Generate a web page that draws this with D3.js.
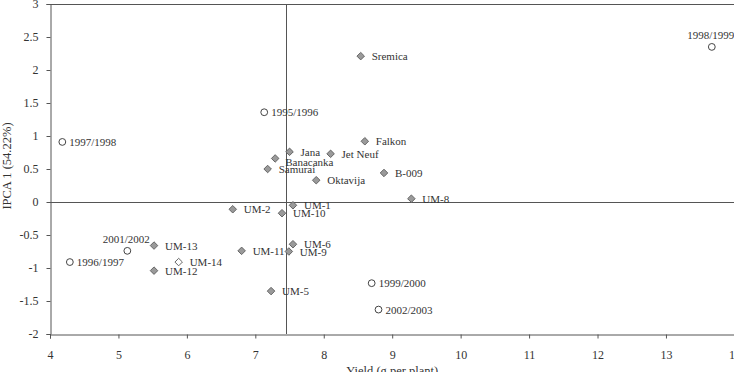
<!DOCTYPE html>
<html>
<head>
<meta charset="utf-8">
<script src="https://cdn.jsdelivr.net/npm/d3@7"></script>
<style>
  html, body { margin: 0; padding: 0; background: #fff; }
  svg { display: block; }
  text { font-family: "Liberation Serif", "Times New Roman", serif; fill: #333; }
</style>
</head>
<body>
<svg id="chart" width="734" height="372"></svg>
<script>
// ---- data ----
const genotypes = ["Sremica","Falkon","Jana","Banacanka","Jet Neuf","Samurai","B-009","Oktavija","UM-8","UM-1","UM-2","UM-10","UM-6","UM-11","UM-9","UM-5","UM-13","UM-12","UM-14"];
const genotypeYield = [8.54, 8.60, 7.50, 7.29, 8.10, 7.18, 8.88, 7.89, 9.28, 7.55, 6.67, 7.39, 7.55, 6.80, 7.49, 7.23, 5.52, 5.52, 5.88];
const genotypeIPCA = [2.21, 0.92, 0.76, 0.66, 0.73, 0.50, 0.44, 0.33, 0.05, -0.05, -0.11, -0.17, -0.64, -0.74, -0.75, -1.35, -0.66, -1.04, -0.91];
const environments = ["1998/1999","1995/1996","1997/1998","2001/2002","1996/1997","1999/2000","2002/2003"];
const envYield = [13.67, 7.13, 4.18, 5.13, 4.29, 8.70, 8.80];
const envIPCA = [2.35, 1.36, 0.91, -0.74, -0.91, -1.23, -1.63];
const meanYield = 7.45;
const xTicks = [4, 5, 6, 7, 8, 9, 10, 11, 12, 13, 14];
const yTicks = [-2, -1.5, -1, -0.5, 0, 0.5, 1, 1.5, 2, 2.5, 3];
const xTitle = "Yield (g per plant)";
const yTitle = "IPCA 1 (54.22%)";

// ---- layout / style ----
const mLeft = 50, mRight = 734.4, mTop = 4, mBottom = 334;
const axisColor = "#555";
const openGenotypes = ["UM-14"];
const labelAbove = ["1998/1999", "2001/2002"];
const labelBelowRight = ["Banacanka"];

const svg = d3.select("#chart");
const x = d3.scaleLinear().domain([4, 14]).range([mLeft, mRight]);
const y = d3.scaleLinear().domain([-2, 3]).range([mBottom, mTop]);

// top frame line
svg.append("line").attr("x1", mLeft).attr("x2", 740).attr("y1", mTop + 0.5).attr("y2", mTop + 0.5)
  .attr("stroke", axisColor).attr("stroke-width", 1);

// axes
const yAxis = d3.axisLeft(y).tickValues(yTicks).tickSize(4).tickPadding(8).tickFormat(d => String(d));
const gy = svg.append("g").attr("transform", `translate(${mLeft + 0.5},0)`).call(yAxis);
const xAxis = d3.axisBottom(x).tickValues(xTicks).tickSize(4).tickPadding(12).tickFormat(d => String(d));
const gx = svg.append("g").attr("transform", `translate(0,${mBottom + 0.5})`).call(xAxis);
[gx, gy].forEach(g => {
  g.select(".domain").attr("stroke", axisColor);
  g.selectAll(".tick line").attr("stroke", axisColor);
  g.selectAll(".tick text").attr("font-size", 12).attr("fill", "#333")
    .attr("font-family", '"Liberation Serif", "Times New Roman", serif');
});

// zero line and mean-yield line
svg.append("line").attr("x1", mLeft).attr("x2", 740).attr("y1", Math.round(y(0)) + 0.5).attr("y2", Math.round(y(0)) + 0.5)
  .attr("stroke", axisColor).attr("stroke-width", 1);
svg.append("line").attr("x1", Math.round(x(meanYield)) + 0.5).attr("x2", Math.round(x(meanYield)) + 0.5)
  .attr("y1", mTop).attr("y2", mBottom).attr("stroke", axisColor).attr("stroke-width", 1);

// titles
svg.append("text").attr("x", (mLeft + mRight) / 2).attr("y", 375).attr("text-anchor", "middle")
  .attr("font-size", 12.5).text(xTitle);
svg.append("text").attr("transform", `translate(11,${(mTop + mBottom) / 2 - 3}) rotate(-90)`)
  .attr("text-anchor", "middle").attr("font-size", 12.5).text(yTitle);

// genotype points (diamonds)
const gData = genotypes.map((n, i) => ({ name: n, x: genotypeYield[i], y: genotypeIPCA[i] }));
const diamond = d3.symbol().type(d3.symbolDiamond2).size(36);
svg.append("g").selectAll("path").data(gData).join("path")
  .attr("d", diamond)
  .attr("transform", d => `translate(${x(d.x)},${y(d.y)})`)
  .attr("fill", d => openGenotypes.includes(d.name) ? "#fff" : "#9a9a9a")
  .attr("stroke", "#666").attr("stroke-width", 1);

// environment points (circles)
const eData = environments.map((n, i) => ({ name: n, x: envYield[i], y: envIPCA[i] }));
svg.append("g").selectAll("circle").data(eData).join("circle")
  .attr("cx", d => x(d.x)).attr("cy", d => y(d.y)).attr("r", 3.4)
  .attr("fill", "#fff").attr("stroke", "#444").attr("stroke-width", 1);

// labels
function placeLabels(data, dx) {
  svg.append("g").selectAll("text").data(data).join("text")
    .attr("font-size", 11)
    .attr("x", d => labelAbove.includes(d.name) ? x(d.x) - 1 : x(d.x) + (labelBelowRight.includes(d.name) ? 10 : dx))
    .attr("y", d => labelAbove.includes(d.name) ? y(d.y) - 7.5 : y(d.y) + (labelBelowRight.includes(d.name) ? 7.5 : 4))
    .attr("text-anchor", d => labelAbove.includes(d.name) ? "middle" : "start")
    .text(d => d.name);
}
placeLabels(gData, 11);
placeLabels(eData, 7);
</script>
</body>
</html>
